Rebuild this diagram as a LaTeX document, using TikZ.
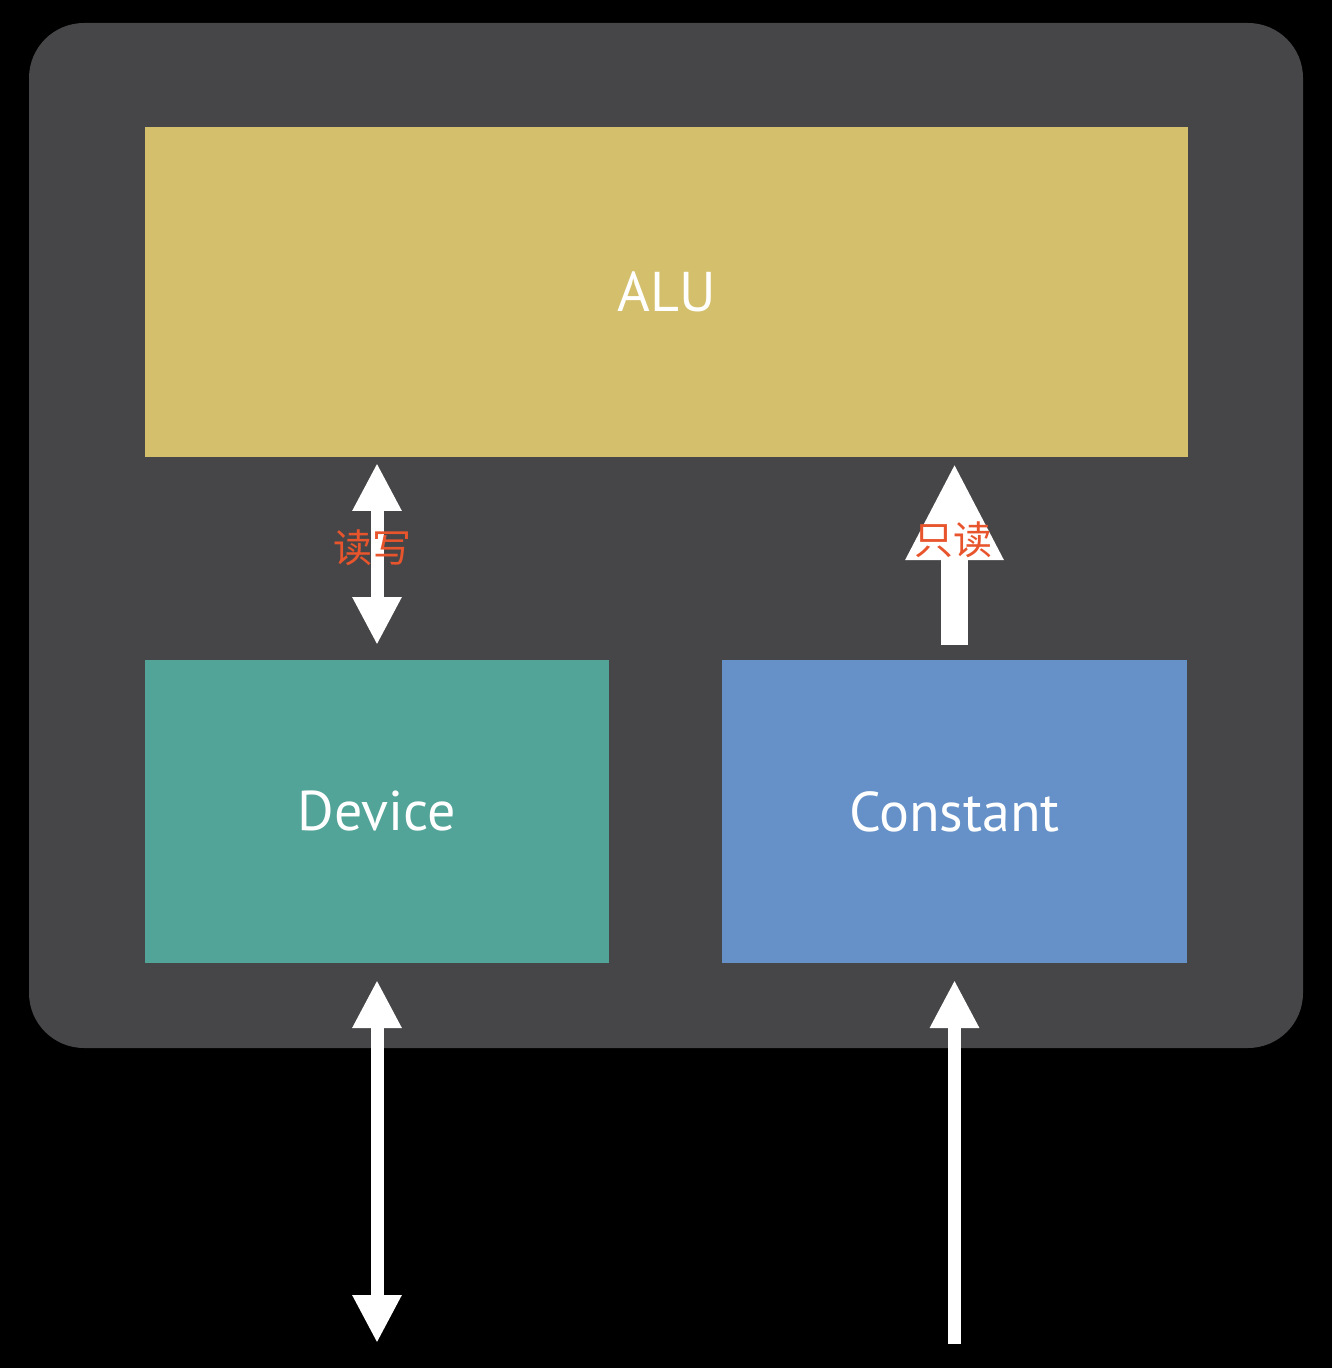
\documentclass[tikz,border=0pt]{standalone}
\usepackage{fontspec}
\setmainfont{PT Sans}
\newfontfamily\cjk{Noto Sans CJK SC}
\usetikzlibrary{arrows.meta}
\definecolor{panelgray}{HTML}{464648}
\definecolor{alucol}{HTML}{D4C06C}
\definecolor{devcol}{HTML}{52A398}
\definecolor{constcol}{HTML}{6591C8}
\definecolor{labred}{HTML}{E8542C}
\tikzset{
  block/.style={inner sep=0pt, outer sep=0pt, text=white, font=\fontsize{28pt}{33pt}\selectfont},
  thinarrow/.style={draw=white, line width=6.5pt,
    -{Triangle[width=23pt,length=24pt]}},
  thindbl/.style={draw=white, line width=6.5pt,
    {Triangle[width=23pt,length=24pt]}-{Triangle[width=23pt,length=24pt]}},
  fatarrow/.style={draw=white, line width=13.5pt,
    -{Triangle[width=45.5pt,length=48.5pt]}},
  lab/.style={text=labred, inner sep=0pt, font=\cjk\fontsize{19.5pt}{22pt}\selectfont}
}
\begin{document}
\begin{tikzpicture}[x=0.5pt,y=-0.5pt]
\useasboundingbox (0,0) rectangle (1332,1368);
\fill[black] (0,0) rectangle (1332,1368);
\fill[panelgray, rounded corners=27.5pt] (29,23) rectangle (1303,1048);
\node[block, fill=alucol, minimum width=521.5pt, minimum height=165pt] (alu) at (666.5,292) {ALU};
\node[block, fill=devcol, minimum width=232pt, minimum height=151.5pt] (dev) at (377,811.5) {Device};
\node[block, fill=constcol, minimum width=232.5pt, minimum height=151.5pt] (con) at (954.5,811.5) {Constant};
\coordinate (devout) at (377,1343);
\coordinate (conin) at (954.5,1344);
% arrows between blocks
\draw[thindbl, shorten <=7.5pt, shorten >=3pt] (dev.north) -- (dev.north |- alu.south);
\draw[fatarrow, shorten <=7.5pt, shorten >=3pt] (con.north) -- (con.north |- alu.south);
% arrows below
\draw[thindbl, shorten >=8.5pt] (devout) -- (dev.south);
\draw[thinarrow, line width=6.25pt, shorten >=8.5pt] (conin) -- (con.south);
% labels
\node[lab] (rw) at (372,548) {读写};
\node[lab] (ro) at (953,540) {只读};
\end{tikzpicture}
\end{document}
